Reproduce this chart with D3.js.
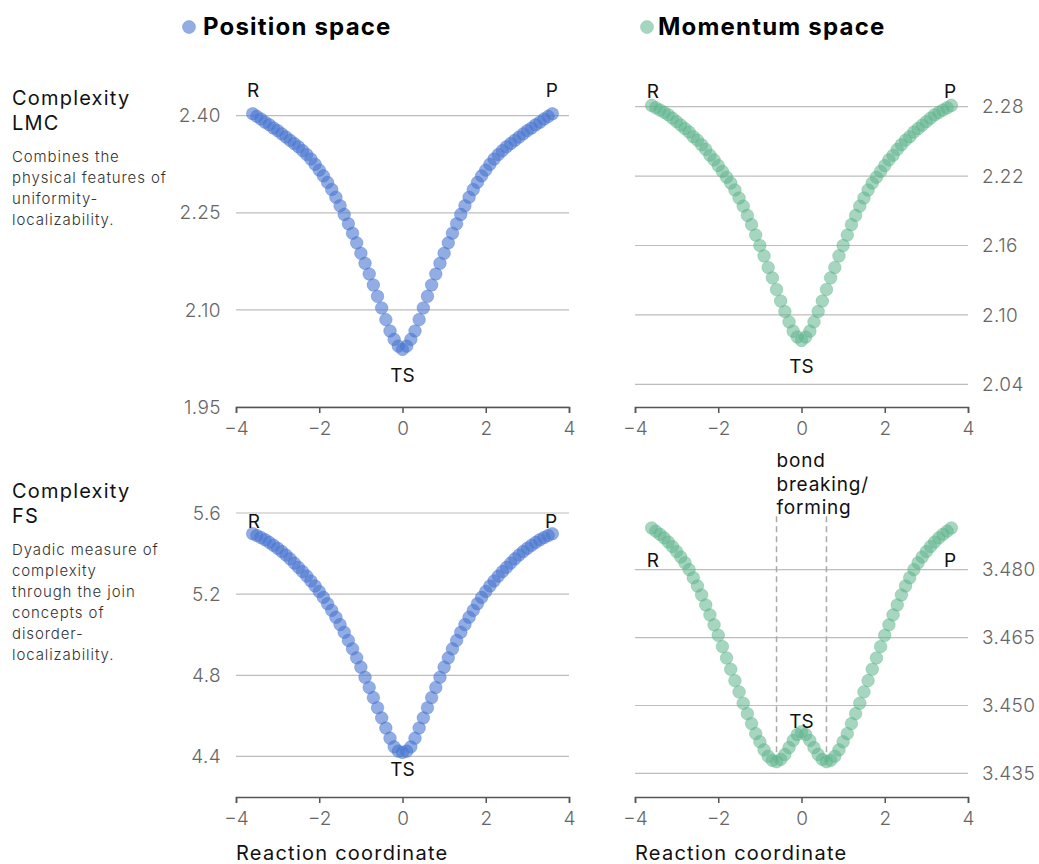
<!DOCTYPE html>
<html><head><meta charset="utf-8">
<script src="https://cdn.jsdelivr.net/npm/d3@7"></script>
<style>
html,body{margin:0;padding:0;background:#fff;}
svg text{font-family: Inter, 'Open Sans', sans-serif;}
</style></head><body>
<svg id="chart" width="1039" height="864"></svg>
<script>
// ---------------- data ----------------
const reactionCoordinate = [-3.6,-3.5,-3.4,-3.3,-3.2,-3.1,-3.0,-2.9,-2.8,-2.7,-2.6,-2.5,-2.4,-2.3,-2.2,-2.1,-2.0,-1.9,-1.8,-1.7,-1.6,-1.5,-1.4,-1.3,-1.2,-1.1,-1.0,-0.9,-0.8,-0.7,-0.6,-0.5,-0.4,-0.3,-0.2,-0.1,0,0.1,0.2,0.3,0.4,0.5,0.6,0.7,0.8,0.9,1.0,1.1,1.2,1.3,1.4,1.5,1.6,1.7,1.8,1.9,2.0,2.1,2.2,2.3,2.4,2.5,2.6,2.7,2.8,2.9,3.0,3.1,3.2,3.3,3.4,3.5,3.6];

const lmcPosition = [2.403,2.399,2.395,2.390,2.386,2.381,2.377,2.372,2.367,2.362,2.357,2.352,2.346,2.340,2.333,2.325,2.316,2.307,2.297,2.286,2.274,2.261,2.2475,2.233,2.2185,2.2035,2.1875,2.172,2.1555,2.1385,2.121,2.103,2.085,2.0675,2.0545,2.044,2.039,2.044,2.0545,2.0675,2.085,2.103,2.121,2.1385,2.1555,2.172,2.1875,2.2035,2.2185,2.233,2.2475,2.261,2.274,2.286,2.297,2.307,2.316,2.325,2.333,2.340,2.346,2.352,2.357,2.362,2.367,2.372,2.377,2.381,2.386,2.390,2.395,2.399,2.403];

const lmcMomentum = [2.281,2.279,2.277,2.275,2.273,2.270,2.267,2.264,2.261,2.258,2.254,2.251,2.247,2.243,2.238,2.234,2.229,2.224,2.219,2.214,2.208,2.201,2.194,2.186,2.178,2.169,2.160,2.151,2.141,2.132,2.122,2.112,2.103,2.094,2.086,2.081,2.078,2.081,2.086,2.094,2.103,2.112,2.122,2.132,2.141,2.151,2.160,2.169,2.178,2.186,2.194,2.201,2.208,2.214,2.219,2.224,2.229,2.234,2.238,2.243,2.247,2.251,2.254,2.258,2.261,2.264,2.267,2.270,2.273,2.275,2.277,2.279,2.281];

const fsPosition = [5.498,5.489,5.479,5.468,5.455,5.441,5.426,5.410,5.393,5.374,5.353,5.332,5.311,5.289,5.265,5.240,5.213,5.184,5.153,5.120,5.086,5.050,5.012,4.972,4.930,4.886,4.840,4.790,4.740,4.690,4.640,4.590,4.540,4.490,4.447,4.426,4.420,4.426,4.447,4.490,4.540,4.590,4.640,4.690,4.740,4.790,4.840,4.886,4.930,4.972,5.012,5.050,5.086,5.120,5.153,5.184,5.213,5.240,5.265,5.289,5.311,5.332,5.353,5.374,5.393,5.410,5.426,5.441,5.455,5.468,5.479,5.489,5.498];

const fsMomentum = [3.4892,3.4885,3.4878,3.4870,3.4861,3.4851,3.4840,3.4828,3.4815,3.4800,3.4782,3.4764,3.4744,3.4722,3.4700,3.4678,3.4655,3.4630,3.4605,3.4580,3.4555,3.4530,3.4505,3.4482,3.4460,3.4438,3.4420,3.4402,3.4388,3.4379,3.4376,3.4381,3.4392,3.4407,3.4423,3.4436,3.4442,3.4436,3.4423,3.4407,3.4392,3.4381,3.4376,3.4379,3.4388,3.4402,3.4420,3.4438,3.4460,3.4482,3.4505,3.4530,3.4555,3.4580,3.4605,3.4630,3.4655,3.4678,3.4700,3.4722,3.4744,3.4764,3.4782,3.4800,3.4815,3.4828,3.4840,3.4851,3.4861,3.4870,3.4878,3.4885,3.4892];

const xTicks = [-4,-2,0,2,4];
const yTicksLmcPosition = [1.95,2.10,2.25,2.40];
const yTicksLmcMomentum = [2.04,2.10,2.16,2.22,2.28];
const yTicksFsPosition = [4.4,4.8,5.2,5.6];
const yTicksFsMomentum = [3.435,3.450,3.465,3.480];

const seriesNames = ["Position space","Momentum space"];
const rowTitles = [["Complexity","LMC"],["Complexity","FS"]];
const rowDescriptions = [
  ["Combines the","physical features of","uniformity-","localizability."],
  ["Dyadic measure of","complexity","through the join","concepts of","disorder-","localizability."]
];
const xAxisTitle = "Reaction coordinate";

// annotation labels (data coordinates)
const labelsLmcPosition = [{t:"R",x:-3.59,y:2.429},{t:"P",x:3.59,y:2.429},{t:"TS",x:0,y:1.989}];
const labelsLmcMomentum = [{t:"R",x:-3.57,y:2.2873},{t:"P",x:3.57,y:2.2873},{t:"TS",x:0,y:2.0499}];
const labelsFsPosition = [{t:"R",x:-3.57,y:5.526},{t:"P",x:3.57,y:5.526},{t:"TS",x:0,y:4.3035}];
const labelsFsMomentum = [{t:"R",x:-3.57,y:3.4806},{t:"P",x:3.57,y:3.4806},{t:"TS",x:0,y:3.4450}];
const bondLines = [-0.6, 0.6];
const bondText = ["bond","breaking/","forming"];

// ---------------- drawing ----------------
const svg = d3.select("#chart");
const BLUE = "#4a76d0", GREEN = "#5fb58c";

const panels = [
  {vals: lmcPosition, color: BLUE, opacity: 0.6, xr:[236,569], yr:[407,106], dom:[1.95,2.415], ticks: yTicksLmcPosition, fmt: d3.format(".2f"), side:"left", labels: labelsLmcPosition},
  {vals: lmcMomentum, color: GREEN, opacity: 0.55, xr:[635,968], yr:[407,106], dom:[2.0205,2.2805], ticks: yTicksLmcMomentum, fmt: d3.format(".2f"), side:"right", labels: labelsLmcMomentum},
  {vals: fsPosition, color: BLUE, opacity: 0.6, xr:[236,569], yr:[797,513], dom:[4.2,5.6], ticks: yTicksFsPosition, fmt: d3.format(".1f"), side:"left", labels: labelsFsPosition, xTitle: true},
  {vals: fsMomentum, color: GREEN, opacity: 0.55, xr:[635,968], yr:[797,513], dom:[3.4298,3.4925], ticks: yTicksFsMomentum, fmt: d3.format(".3f"), side:"right", labels: labelsFsMomentum, xTitle: true, bond: true}
];

panels.forEach(p => {
  const x = d3.scaleLinear().domain([-4,4]).range(p.xr);
  const y = d3.scaleLinear().domain(p.dom).range(p.yr);
  const g = svg.append("g");

  // gridlines
  g.selectAll("line.grid").data(p.ticks).join("line")
    .attr("x1", p.xr[0]).attr("x2", p.xr[1])
    .attr("y1", d => y(d)).attr("y2", d => y(d))
    .attr("stroke", "#bdbdbd").attr("stroke-width", 1.2);

  // y tick labels
  g.selectAll("text.ytick").data(p.ticks).join("text")
    .attr("x", p.side === "left" ? p.xr[0] - 15 : p.xr[1] + 14)
    .attr("y", d => y(d))
    .attr("dy", "0.35em")
    .attr("text-anchor", p.side === "left" ? "end" : "start")
    .attr("font-size", 19).attr("font-weight", 300).attr("fill", "#666")
    .attr("letter-spacing", 0.4)
    .text(d => p.fmt(d));

  // x axis
  const ax = g.append("g").attr("transform", `translate(0,${p.yr[0]})`)
    .call(d3.axisBottom(x).tickValues(xTicks).tickSize(6).tickPadding(9).tickFormat(d3.format("d")));
  ax.select(".domain").attr("stroke", "#555").attr("stroke-width", 1.5);
  ax.selectAll(".tick line").attr("stroke", "#555").attr("stroke-width", 1.5);
  ax.selectAll(".tick text").attr("font-size", 19).attr("font-weight", 300).attr("fill", "#666")
    .style("font-family", "Inter, 'Open Sans', sans-serif");

  // bond annotation
  if (p.bond) {
    g.selectAll("line.bond").data(bondLines).join("line")
      .attr("x1", d => x(d)).attr("x2", d => x(d))
      .attr("y1", y(3.4918)).attr("y2", y(3.4376))
      .attr("stroke", "#aaa").attr("stroke-width", 1.5).attr("stroke-dasharray", "6,4");
    g.selectAll("text.bond").data(bondText).join("text")
      .attr("x", x(-0.6)).attr("y", (d,i) => 467 + i*23.5)
      .attr("font-size", 19).attr("letter-spacing", 0.8).attr("fill", "#111").text(d => d);
  }

  // points
  g.selectAll("circle").data(reactionCoordinate.map((v,i) => [v, p.vals[i]])).join("circle")
    .attr("cx", d => x(d[0])).attr("cy", d => y(d[1])).attr("r", 6.3)
    .attr("fill", p.color).attr("fill-opacity", p.opacity)
    .attr("stroke", p.color).attr("stroke-opacity", 0.35).attr("stroke-width", 1);

  // labels
  g.selectAll("text.lab").data(p.labels).join("text")
    .attr("x", d => x(d.x)).attr("y", d => y(d.y))
    .attr("text-anchor", "middle").attr("font-size", 19).attr("fill", "#111")
    .text(d => d.t);

  if (p.xTitle) {
    g.append("text").attr("x", p.xr[0]).attr("y", 860)
      .attr("font-size", 20).attr("letter-spacing", 1.25).attr("fill", "#111").text(xAxisTitle);
  }
});

// legend headers
const legendPos = [{cx:189, tx:203, color: BLUE, op:0.6},{cx:647, tx:658, color: GREEN, op:0.55}];
seriesNames.forEach((name, i) => {
  const l = legendPos[i];
  svg.append("circle").attr("cx", l.cx).attr("cy", 27).attr("r", 6.5)
    .attr("fill", l.color).attr("fill-opacity", l.op).attr("stroke", l.color).attr("stroke-opacity", 0.35);
  svg.append("text").attr("x", l.tx).attr("y", 35).attr("font-size", 24).attr("font-weight", 700)
    .attr("letter-spacing", 1.2).attr("fill", "#000").text(name);
});

// row titles and descriptions
const rowTop = [105, 498];
rowTitles.forEach((lines, r) => {
  lines.forEach((t, i) => {
    svg.append("text").attr("x", 12).attr("y", rowTop[r] + i*25).attr("font-size", 20)
      .attr("letter-spacing", 1.2).attr("fill", "#111").text(t);
  });
  rowDescriptions[r].forEach((t, i) => {
    svg.append("text").attr("x", 12).attr("y", rowTop[r] + 57 + i*21).attr("font-size", 15)
      .attr("letter-spacing", 0.9).attr("font-weight", 300).attr("fill", "#333").text(t);
  });
});
</script>
</body></html>
